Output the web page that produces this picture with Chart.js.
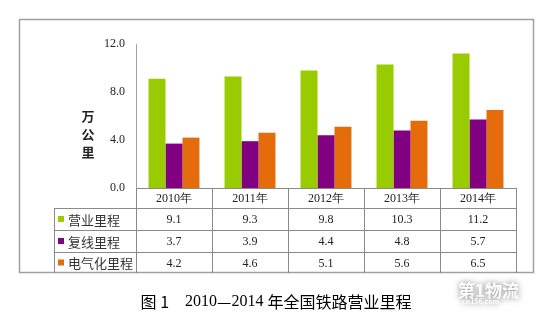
<!DOCTYPE html>
<html>
<head>
<meta charset="utf-8">
<script src="https://cdn.jsdelivr.net/npm/chart.js@4/dist/chart.umd.min.js"></script>
<style>
  body { margin: 0; background: #fff; }
  #wrap { width: 560px; height: 322px; }
</style>
</head>
<body>
<div id="wrap"><canvas id="canvas" width="560" height="322"></canvas></div>
<script>
var years = ['2010年', '2011年', '2012年', '2013年', '2014年'];
var seriesNames = ['营业里程', '复线里程', '电气化里程'];
var operating = [9.1, 9.3, 9.8, 10.3, 11.2];
var doubleTrack = [3.7, 3.9, 4.4, 4.8, 5.7];
var electrified = [4.2, 4.6, 5.1, 5.6, 6.5];
var yTicks = [0, 4, 8, 12];
var colors = ['#99CC00', '#800080', '#E46C0A'];

var serif = '"Liberation Serif", "Times New Roman", serif';
var cjk = '"Noto Sans CJK SC", "Noto Sans", sans-serif';

// frame, y-axis title, data table and caption
var tablePlugin = {
    id: 'tablePlugin',
    beforeDraw: function (chart) {
        var ctx = chart.ctx;
        ctx.save();
        ctx.fillStyle = '#fff';
        ctx.fillRect(0, 0, chart.width, chart.height);
        ctx.strokeStyle = '#a0a0a0';
        ctx.lineWidth = 1.5;
        ctx.strokeRect(19.5, 19.5, 514, 253);
        ctx.restore();
    },
    afterDraw: function (chart) {
        var ctx = chart.ctx;
        var x = chart.scales.x;
        var area = chart.chartArea;
        var half = (x.getPixelForValue(1) - x.getPixelForValue(0)) / 2;
        var rows = [area.bottom, area.bottom + 20, area.bottom + 42, area.bottom + 64, area.bottom + 85];
        var legendLeft = 54;
        var data = [operating, doubleTrack, electrified];
        ctx.save();

        // y-axis title, stacked vertically
        ctx.fillStyle = '#222';
        ctx.font = 'bold 13px ' + cjk;
        ctx.textAlign = 'center';
        ctx.textBaseline = 'middle';
        ['万', '公', '里'].forEach(function (c, i) {
            ctx.fillText(c, 88, 116 + i * 18);
        });

        // grid lines of the table
        ctx.strokeStyle = '#8a8a8a';
        ctx.lineWidth = 1;
        ctx.beginPath();
        ctx.moveTo(area.left, rows[0] + 0.5);
        ctx.lineTo(area.right, rows[0] + 0.5);
        for (var r = 1; r < rows.length - 1; r++) {
            ctx.moveTo(legendLeft, rows[r] + 0.5);
            ctx.lineTo(area.right, rows[r] + 0.5);
        }
        ctx.moveTo(legendLeft + 0.5, rows[1]);
        ctx.lineTo(legendLeft + 0.5, rows[4]);
        for (var i = 0; i <= years.length; i++) {
            var bx = Math.round(x.getPixelForValue(i) - half) + 0.5;
            ctx.moveTo(bx, rows[0]);
            ctx.lineTo(bx, rows[4]);
        }
        ctx.stroke();

        // year header and values
        ctx.fillStyle = '#222';
        ctx.font = '12px ' + serif;
        years.forEach(function (y, i) {
            var cx = x.getPixelForValue(i);
            ctx.fillText(y, cx, (rows[0] + rows[1]) / 2 + 1);
            data.forEach(function (arr, s) {
                ctx.fillText(arr[i].toFixed(1), cx, (rows[s + 1] + rows[s + 2]) / 2 + 1);
            });
        });

        // legend column
        ctx.textAlign = 'left';
        ctx.font = '13px ' + cjk;
        seriesNames.forEach(function (name, s) {
            var cy = (rows[s + 1] + rows[s + 2]) / 2;
            ctx.fillStyle = colors[s];
            ctx.fillRect(58, cy - 3, 6, 6);
            ctx.fillStyle = '#333';
            ctx.fillText(name, 68, cy + 1);
        });

        // caption
        ctx.fillStyle = '#000';
        ctx.textAlign = 'left';
        ctx.font = '16px ' + cjk;
        var parts = [['图 1', cjk], ['    2010', serif], ['—', cjk], ['2014 ', serif], ['年全国铁路营业里程', cjk]];
        var widths = parts.map(function (p) { ctx.font = '16px ' + p[1]; return ctx.measureText(p[0]).width; });
        var total = widths.reduce(function (a, b) { return a + b; }, 0);
        var tx = 276 - total / 2;
        parts.forEach(function (p, k) {
            ctx.font = '16px ' + p[1];
            ctx.fillText(p[0], tx, 302);
            tx += widths[k];
        });

        // watermark
        ctx.font = 'bold 17px ' + cjk;
        ctx.shadowColor = 'rgba(0,0,0,0.55)';
        ctx.shadowBlur = 6;
        ctx.fillStyle = '#fff';
        ctx.fillText('第1物流', 458, 291);
        ctx.font = 'bold 7px ' + cjk;
        ctx.fillText('cn156.com', 462, 301);
        ctx.restore();
    }
};

window.onload = function () {
    var ctx = document.getElementById('canvas').getContext('2d');
    window.myBar = new Chart(ctx, {
        type: 'bar',
        data: {
            labels: years,
            datasets: [{
                label: seriesNames[0],
                data: operating,
                backgroundColor: colors[0]
            }, {
                label: seriesNames[1],
                data: doubleTrack,
                backgroundColor: colors[1]
            }, {
                label: seriesNames[2],
                data: electrified,
                backgroundColor: colors[2]
            }]
        },
        options: {
            responsive: false,
            animation: false,
            layout: {
                padding: { top: 44, left: 20, right: 44, bottom: 134 }
            },
            datasets: {
                bar: { categoryPercentage: 0.67, barPercentage: 1.0 }
            },
            plugins: {
                legend: { display: false },
                title: { display: false },
                tooltip: { enabled: false }
            },
            scales: {
                x: { display: false },
                y: {
                    min: 0,
                    max: 12,
                    afterFit: function (s) { s.width = 116; },
                    afterBuildTicks: function (s) {
                        s.ticks = yTicks.map(function (v) { return { value: v }; });
                    },
                    grid: { display: false, drawTicks: false },
                    border: { display: true, color: '#a0a0a0', width: 1 },
                    ticks: {
                        padding: 11,
                        color: '#222',
                        font: { family: serif, size: 12 },
                        callback: function (v) { return v.toFixed(1); }
                    }
                }
            }
        },
        plugins: [tablePlugin]
    });
};
</script>
</body>
</html>
